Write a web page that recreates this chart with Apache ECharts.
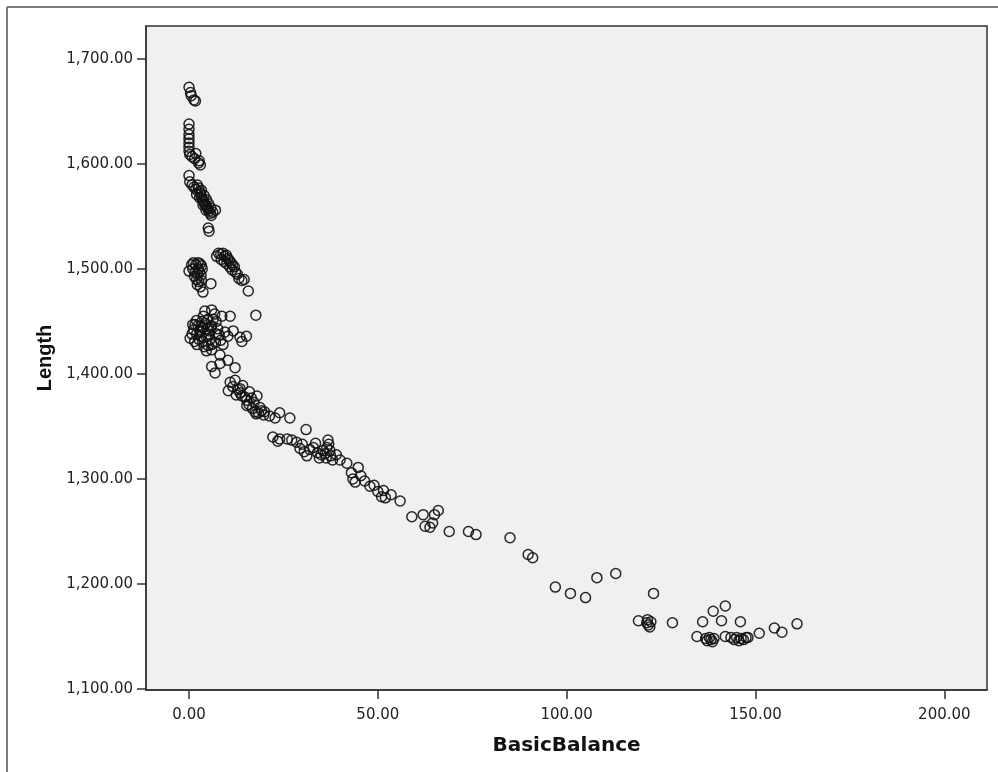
<!DOCTYPE html>
<html>
<head>
<meta charset="utf-8">
<script src="https://cdn.jsdelivr.net/npm/echarts@6/dist/echarts.min.js"></script>
<style>html,body{margin:0;padding:0;background:#fff}#c{width:998px;height:772px}</style>
</head>
<body>
<div id="c"></div>
<script>
const xTicks = [0, 50, 100, 150, 200];
const yTicks = [1100, 1200, 1300, 1400, 1500, 1600, 1700];

const clusterA = [[0,1673],[0.4,1668],[0.6,1665],[1.3,1661],[1.7,1660]];
const clusterB = [[0,1638],[0,1633],[0,1628],[0,1624],[0,1620],[0,1616],[0,1612],[0.2,1609],[0.8,1607],[1.5,1605],[1.8,1610],[2.5,1601],[3,1599],[2.7,1603]];
const clusterC = [[0,1589],[0.2,1583],[0.8,1580],[1.3,1578],[1.8,1576],[2.2,1580],[2.6,1577],[2.9,1573],[3.1,1571],[3.4,1568],[3.6,1566],[3.9,1564],[4.1,1562],[4.4,1561],[4.7,1559],[5,1557],[5.3,1555],[5.6,1553],[5.9,1551],[6.3,1554],[7,1556],[3.3,1575],[4,1570],[4.6,1566],[5.2,1562],[5.8,1558],[2,1571],[2.8,1568],[3.7,1561],[4.5,1556],[5.1,1539],[5.3,1536]];
const clusterD = [[0,1498],[0.7,1504],[1.2,1506],[1.8,1504],[2.4,1506],[2.9,1505],[3.3,1503],[1,1500],[1.6,1497],[2.2,1495],[2.8,1497],[3.2,1494],[1.4,1493],[2,1490],[2.6,1488],[3.3,1489],[2.2,1485],[3,1483],[3.5,1500],[2.5,1500],[3.7,1478],[5.8,1486]];
const clusterE = [[7.3,1512],[7.8,1515],[8.4,1514],[9,1515],[9.4,1512],[9.9,1513],[10.3,1510],[10.7,1508],[11.1,1506],[11.5,1504],[12,1502],[8.5,1509],[9.3,1507],[10,1505],[10.8,1502],[11.4,1499],[12.3,1497],[12.8,1495],[13.2,1491],[14,1489],[14.6,1490],[15.7,1479],[17.7,1456]];
const clusterF = [[0.3,1434],[0.8,1438],[1.2,1442],[1.6,1447],[2,1451],[2.4,1446],[2.8,1441],[3.2,1436],[3.6,1431],[1.5,1431],[2.1,1428],[2.6,1433],[3,1445],[3.4,1450],[3.8,1455],[4.2,1460],[4.4,1448],[4.8,1443],[5.2,1438],[5.6,1433],[6,1428],[4,1426],[4.6,1422],[5.1,1427],[5.5,1441],[6,1446],[6.4,1452],[6.8,1457],[7.2,1450],[7.6,1443],[8,1437],[8.4,1432],[5,1452],[6,1461],[8.7,1455],[10.9,1455],[9.5,1440],[10.3,1436],[11.7,1441],[13.5,1435],[15.2,1436],[14,1431],[6.9,1401],[6,1407],[8.2,1410],[10.3,1413],[12.2,1406],[6,1423],[8.2,1418],[7,1430],[9,1428],[3,1440],[4.5,1436],[7.4,1438],[2,1438],[3.7,1444],[5.8,1445],[1,1447]];
const clusterG = [[10.9,1392],[11.6,1388],[12.2,1394],[13,1385],[13.5,1382],[10.4,1384],[12.5,1380],[13.5,1386],[14.2,1389],[14.8,1378],[15.3,1375],[15.9,1371],[16.5,1377],[17.2,1373],[18,1379],[15.3,1370],[16.8,1367],[17.5,1364],[18.4,1363],[19.2,1365],[20,1364],[18.8,1368],[16,1383],[19.8,1361],[21.3,1360],[22.8,1358],[24,1363],[26.7,1358],[17.8,1362],[14,1379]];
const clusterH = [[22.2,1340],[23.5,1336],[24,1338],[26,1338],[27.2,1337],[28.5,1335],[29.4,1329],[30,1333],[31,1347],[30.5,1326],[31.2,1322],[32,1328],[32.9,1330],[33.5,1334],[34,1325],[34.5,1320],[35,1323],[35.5,1327],[36,1324],[36.3,1320],[36.5,1330],[36.8,1337],[37,1333],[37.3,1327],[37.5,1322],[38,1318],[39,1323],[40,1318],[41.8,1315],[43,1306],[43.4,1300],[44.8,1311],[44,1297],[45.5,1303],[46.5,1298],[47.9,1293],[49,1294],[50,1288],[51,1283],[52,1282],[51.5,1289],[53.5,1285],[55.9,1279]];
const clusterI = [[59,1264],[62,1266],[62.5,1255],[63.8,1254],[65,1266],[66,1270],[64.5,1258],[68.9,1250],[74,1250],[76,1247],[85,1244],[89.8,1228],[91,1225],[97,1197],[101,1191],[105,1187],[108,1206],[113,1210],[123,1191],[119,1165],[121.2,1163],[121.6,1161],[122,1159],[121.4,1166],[122.3,1164],[128,1163],[134.5,1150],[136,1164],[136.8,1148],[137.2,1146],[137.8,1149],[138.2,1147],[138.6,1145],[139,1148],[138.8,1174],[142,1179],[141,1165],[142,1150],[143.5,1149],[144.4,1147],[145,1149],[145.6,1146],[146.2,1148],[146.8,1147],[147.5,1149],[146,1164],[148,1149],[151,1153],[155,1158],[157,1154],[161,1162]];

const points = [].concat(clusterA, clusterB, clusterC, clusterD, clusterE, clusterF, clusterG, clusterH, clusterI);

function fmt(v) {
  const fixed = Math.abs(v).toFixed(2);
  const parts = fixed.split('.');
  parts[0] = parts[0].replace(/\B(?=(\d{3})+(?!\d))/g, ',');
  return (v < 0 ? '-' : '') + parts.join('.');
}

const chart = echarts.init(document.getElementById('c'), null, {renderer: 'canvas'});
chart.setOption({
  animation: false,
  backgroundColor: '#ffffff',
  graphic: [
    {type: 'line', shape: {x1: 7, y1: 7, x2: 998, y2: 7}, style: {stroke: '#7a7a7a', lineWidth: 2}, silent: true, z: 0},
    {type: 'line', shape: {x1: 7, y1: 7, x2: 7, y2: 772}, style: {stroke: '#7a7a7a', lineWidth: 2}, silent: true, z: 0}
  ],
  grid: {
    left: 146, top: 26, width: 841, height: 664,
    show: true, backgroundColor: '#f0f0f0', borderColor: '#333', borderWidth: 1.5
  },
  xAxis: {
    type: 'value', min: -11.39, max: 211.3,
    splitLine: {show: false},
    axisLine: {show: true, onZero: false, lineStyle: {color: '#333', width: 1.5}},
    axisTick: {show: true, customValues: xTicks, length: 9, lineStyle: {color: '#333', width: 1.5}},
    axisLabel: {customValues: xTicks, formatter: fmt, margin: 18, color: '#222', fontFamily: 'DejaVu Sans', fontSize: 15},
    name: 'BasicBalance', nameLocation: 'middle', nameGap: 46,
    nameTextStyle: {fontFamily: 'DejaVu Sans', fontWeight: 'bold', fontSize: 20, color: '#111'}
  },
  yAxis: {
    type: 'value', min: 1099, max: 1731.4,
    splitLine: {show: false},
    axisLine: {show: true, onZero: false, lineStyle: {color: '#333', width: 1.5}},
    axisTick: {show: true, customValues: yTicks, length: 9, lineStyle: {color: '#333', width: 1.5}},
    axisLabel: {customValues: yTicks, formatter: fmt, margin: 13, color: '#222', fontFamily: 'DejaVu Sans', fontSize: 15},
    name: 'Length', nameLocation: 'middle', nameGap: 88, nameRotate: 90,
    nameTextStyle: {fontFamily: 'Liberation Sans', fontWeight: 'bold', fontSize: 20, color: '#111'}
  },
  series: [{
    type: 'scatter',
    data: points,
    symbol: 'circle',
    symbolSize: 10,
    itemStyle: {color: 'rgba(0,0,0,0)', borderColor: '#111', borderWidth: 1.5, opacity: 0.9}
  }]
});
</script>
</body>
</html>
